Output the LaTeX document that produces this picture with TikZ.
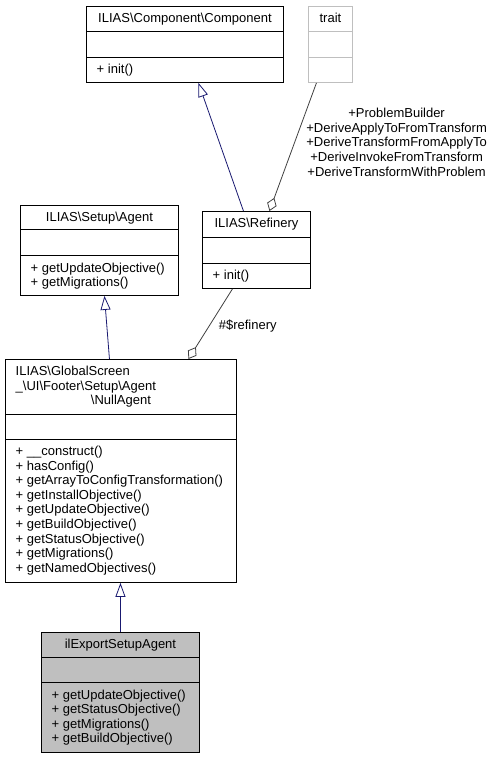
\documentclass[tikz,border=0pt]{standalone}
\usepackage{fontspec}
\setmainfont{Liberation Sans}
\usetikzlibrary{arrows.meta}
\definecolor{edgeblue}{RGB}{25,25,112}
\definecolor{edgegray}{RGB}{64,64,64}
\definecolor{boxgray}{RGB}{191,191,191}
\newcommand{\bs}{\textbackslash}
\begin{document}
\begin{tikzpicture}[x=1pt, y=-1pt,
    classbox/.style={draw=black, line width=0.9pt, fill=white, inner sep=0pt, anchor=north west},
    sep/.style={line width=0.9pt},
    txt/.style={inner sep=0pt, font=\fontsize{13}{14.6}\selectfont},
    title/.style={txt, anchor=base},
    member/.style={txt, anchor=base west},
    inherit/.style={draw=edgeblue, line width=0.8pt, -{Triangle[open, length=14pt, width=10pt]}},
    aggregate/.style={draw=edgegray, line width=0.8pt, -{Diamond[open, length=14pt, width=10pt]}}]
    \useasboundingbox (0,0) rectangle (495,759);

    % ILIAS\Component\Component
    \node[classbox, minimum width=197pt, minimum height=76pt] (component) at (86,6) {};
    \draw[sep] ([yshift=-25pt]component.north west) -- ([yshift=-25pt]component.north east);
    \draw[sep] ([yshift=-51pt]component.north west) -- ([yshift=-51pt]component.north east);
    \node[title] (component-name) at ([yshift=-16.5pt]component.north) {ILIAS\bs Component\bs Component};
    \node[member] (component-m1) at ([xshift=10.5pt, yshift=-67.5pt]component.north west) {+ init()};

    % trait
    \node[classbox, draw=boxgray, minimum width=44pt, minimum height=76pt] (trait) at (308,6) {};
    \draw[sep, boxgray] ([yshift=-25pt]trait.north west) -- ([yshift=-25pt]trait.north east);
    \draw[sep, boxgray] ([yshift=-51pt]trait.north west) -- ([yshift=-51pt]trait.north east);
    \node[title] (trait-name) at ([yshift=-16.5pt]trait.north) {trait};

    % ILIAS\Setup\Agent
    \node[classbox, minimum width=158pt, minimum height=90pt] (agent) at (20,205) {};
    \draw[sep] ([yshift=-24.5pt]agent.north west) -- ([yshift=-24.5pt]agent.north east);
    \draw[sep] ([yshift=-50.5pt]agent.north west) -- ([yshift=-50.5pt]agent.north east);
    \node[title] (agent-name) at ([yshift=-16.5pt]agent.north) {ILIAS\bs Setup\bs Agent};
    \foreach \m [count=\i] in {+ getUpdateObjective(), + getMigrations()}
        \node[member] (agent-m\i) at ([xshift=10.5pt, yshift={-67pt-(\i-1)*14.6pt}]agent.north west) {\m};

    % ILIAS\Refinery
    \node[classbox, minimum width=108pt, minimum height=77pt] (refinery) at (202,211) {};
    \draw[sep] ([yshift=-26pt]refinery.north west) -- ([yshift=-26pt]refinery.north east);
    \draw[sep] ([yshift=-52pt]refinery.north west) -- ([yshift=-52pt]refinery.north east);
    \node[title] (refinery-name) at ([yshift=-16.5pt]refinery.north) {ILIAS\bs Refinery};
    \node[member] (refinery-m1) at ([xshift=10.5pt, yshift=-68.5pt]refinery.north west) {+ init()};

    % NullAgent
    \node[classbox, minimum width=231pt, minimum height=223pt] (nullagent) at (5,359) {};
    \draw[sep] ([yshift=-55pt]nullagent.north west) -- ([yshift=-55pt]nullagent.north east);
    \draw[sep] ([yshift=-80pt]nullagent.north west) -- ([yshift=-80pt]nullagent.north east);
    \node[member] (nullagent-n1) at ([xshift=10.5pt, yshift=-16.5pt]nullagent.north west) {ILIAS\bs GlobalScreen};
    \node[member] (nullagent-n2) at ([xshift=10.5pt, yshift=-31.1pt]nullagent.north west) {\_\bs UI\bs Footer\bs Setup\bs Agent};
    \node[title] (nullagent-n3) at ([yshift=-45.7pt]nullagent.north) {\bs NullAgent};
    \foreach \m [count=\i] in {+ \_\_construct(), + hasConfig(), + getArrayToConfigTransformation(),
        + getInstallObjective(), + getUpdateObjective(), + getBuildObjective(),
        + getStatusObjective(), + getMigrations(), + getNamedObjectives()}
        \node[member] (nullagent-m\i) at ([xshift=10.5pt, yshift={-96.5pt-(\i-1)*14.6pt}]nullagent.north west) {\m};

    % ilExportSetupAgent
    \node[classbox, fill=boxgray, minimum width=158pt, minimum height=120pt] (ilexport) at (41,632) {};
    \draw[sep] ([yshift=-25pt]ilexport.north west) -- ([yshift=-25pt]ilexport.north east);
    \draw[sep] ([yshift=-50.5pt]ilexport.north west) -- ([yshift=-50.5pt]ilexport.north east);
    \node[title] (ilexport-name) at ([yshift=-16.5pt]ilexport.north) {ilExportSetupAgent};
    \foreach \m [count=\i] in {+ getUpdateObjective(), + getStatusObjective(),
        + getMigrations(), + getBuildObjective()}
        \node[member] (ilexport-m\i) at ([xshift=10.5pt, yshift={-67pt-(\i-1)*14.6pt}]ilexport.north west) {\m};

    \draw[inherit] ([xshift=-13pt]refinery.north) -- ([xshift=13.5pt]component.south);
    \draw[aggregate] ([xshift=-14pt]trait.south) -- node[txt, anchor=west, align=center, xshift=13pt, yshift=4.7pt] {+ProblemBuilder\\+DeriveApplyToFromTransform\\+DeriveTransformFromApplyTo\\+DeriveInvokeFromTransform\\+DeriveTransformWithProblem} ([xshift=13pt]refinery.north);
    \draw[inherit] ([xshift=-11.5pt]nullagent.north) -- ([xshift=5pt]agent.south);
    \draw[aggregate] ([xshift=-24pt]refinery.south) -- node[txt, anchor=west, xshift=8pt, yshift=-2pt] {\#\$refinery} ([xshift=67.5pt]nullagent.north);
    \draw[inherit] (ilexport.north) -- (ilexport.north |- nullagent.south);
\end{tikzpicture}
\end{document}
